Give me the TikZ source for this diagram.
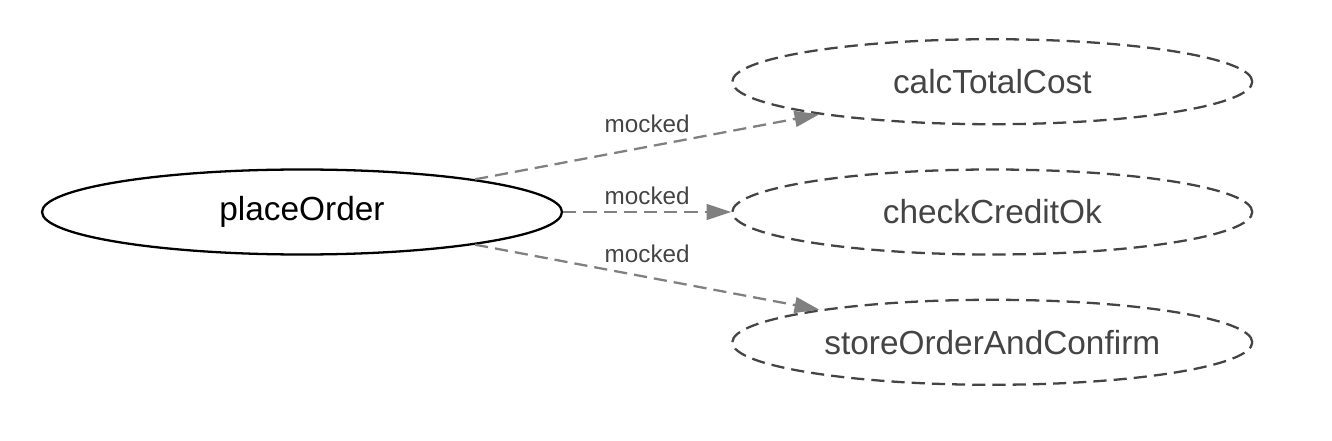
\documentclass[tikz,border=0pt]{standalone}
\usepackage{fontspec}
\setmainfont{Liberation Sans}
\usepackage{xcolor}
\usepackage{tikz}
\usetikzlibrary{positioning, shapes.geometric, arrows.meta}
\definecolor{edgegray}{HTML}{808080}
\definecolor{textgray}{HTML}{444444}

\begin{document}
\begin{tikzpicture}[
	fn/.style={ellipse, draw=black, line width=1.3pt, minimum width=10.4cm, minimum height=1.7cm, inner sep=0pt, font=\fontsize{19}{22}\selectfont},
	mockfn/.style={fn, draw=textgray, text=textgray, dash pattern=on 7.5pt off 4pt},
	mockedge/.style={-{Triangle[length=14pt, width=9pt]}, draw=edgegray, line width=1.3pt, dash pattern=on 7.5pt off 4pt},
	lbl/.style={midway, above=2pt, text=textgray, font=\fontsize{13.8}{16}\selectfont},
	]
		\useasboundingbox (0,0) rectangle (26.64,8.8);
		%Nodes
    \node[fn]          (place)      at (6.04,4.56)                 {placeOrder};
    \node[mockfn]      (credit)     [right=3.36cm of place]        {checkCreditOk};
    \node[mockfn]      (cost)       [above=0.86cm of credit]       {calcTotalCost};
    \node[mockfn]      (store)      [below=0.86cm of credit]       {storeOrderAndConfirm};

		%Lines
		\draw[mockedge] (place) to node[lbl, above=4pt] {mocked} (cost);
		\draw[mockedge] (place) to node[lbl, above=0pt] {mocked} (credit);
		\draw[mockedge] (place) to node[lbl, above=4pt] {mocked} (store);
	\end{tikzpicture}
\end{document}
